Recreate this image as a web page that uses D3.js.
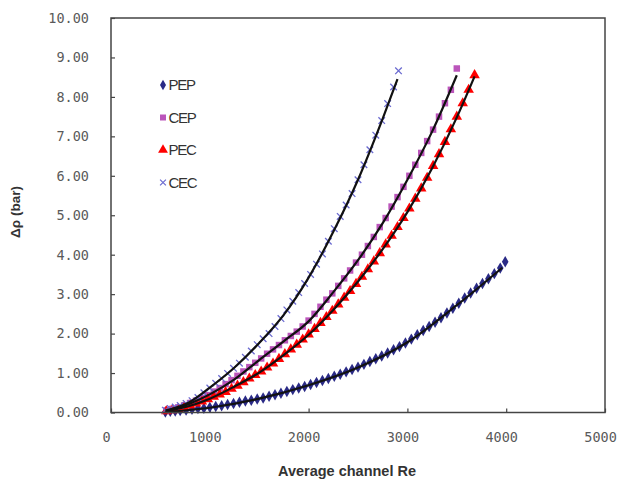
<!DOCTYPE html>
<html>
<head>
<meta charset="utf-8">
<script src="https://cdn.jsdelivr.net/npm/d3@7"></script>
<style>
  body { margin: 0; background: #fff; }
</style>
</head>
<body>
<div id="chart"></div>
<script>
// Re vs pressure drop
const pep = [[550,0.01],[600,0.03],[650,0.04],[700,0.05],[760,0.06],[820,0.08],[880,0.10],[940,0.11],[1000,0.13],[1060,0.15],[1120,0.17],[1180,0.20],[1240,0.23],[1300,0.26],[1360,0.29],[1420,0.31],[1480,0.34],[1540,0.37],[1600,0.41],[1660,0.45],[1720,0.49],[1780,0.53],[1840,0.58],[1900,0.62],[1960,0.66],[2020,0.71],[2080,0.76],[2140,0.81],[2200,0.86],[2260,0.92],[2320,0.97],[2380,1.03],[2440,1.09],[2500,1.15],[2560,1.22],[2620,1.29],[2680,1.36],[2740,1.43],[2800,1.51],[2860,1.59],[2920,1.67],[2980,1.76],[3040,1.86],[3100,1.97],[3160,2.08],[3220,2.18],[3280,2.29],[3340,2.40],[3400,2.52],[3460,2.64],[3520,2.77],[3580,2.90],[3640,3.03],[3700,3.15],[3760,3.27],[3820,3.39],[3880,3.52],[3940,3.66],[3990,3.82]];
const cep = [[560,0.05],[620,0.09],[680,0.13],[740,0.18],[800,0.24],[860,0.30],[920,0.37],[980,0.44],[1040,0.53],[1100,0.62],[1160,0.72],[1220,0.82],[1280,0.93],[1340,1.04],[1400,1.15],[1460,1.26],[1520,1.37],[1580,1.49],[1640,1.60],[1700,1.71],[1760,1.83],[1820,1.94],[1880,2.05],[1940,2.18],[2000,2.33],[2060,2.50],[2120,2.68],[2180,2.86],[2240,3.02],[2300,3.21],[2360,3.40],[2420,3.60],[2480,3.80],[2540,4.00],[2600,4.22],[2660,4.45],[2720,4.70],[2780,4.93],[2840,5.22],[2900,5.46],[2960,5.72],[3020,6.00],[3080,6.28],[3140,6.58],[3200,6.88],[3260,7.17],[3320,7.50],[3380,7.84],[3440,8.18],[3500,8.72]];
const pec = [[560,0.03],[620,0.06],[680,0.09],[740,0.13],[800,0.18],[860,0.23],[920,0.28],[980,0.34],[1040,0.40],[1100,0.46],[1160,0.52],[1220,0.60],[1280,0.68],[1340,0.77],[1400,0.86],[1460,0.95],[1520,1.04],[1580,1.14],[1640,1.24],[1700,1.36],[1760,1.48],[1820,1.60],[1880,1.72],[1940,1.85],[2000,1.98],[2060,2.12],[2120,2.27],[2180,2.42],[2240,2.58],[2300,2.74],[2360,2.91],[2420,3.08],[2480,3.26],[2540,3.44],[2600,3.63],[2660,3.83],[2720,4.04],[2780,4.26],[2840,4.48],[2900,4.70],[2960,4.93],[3020,5.17],[3080,5.42],[3140,5.68],[3200,5.95],[3260,6.25],[3320,6.55],[3380,6.86],[3440,7.18],[3500,7.50],[3560,7.84],[3620,8.18],[3680,8.55]];
const cec = [[550,0.06],[600,0.10],[650,0.14],[700,0.18],[760,0.23],[820,0.30],[880,0.38],[940,0.50],[1000,0.62],[1060,0.74],[1120,0.86],[1180,0.99],[1240,1.12],[1300,1.25],[1360,1.40],[1420,1.56],[1480,1.72],[1540,1.87],[1600,2.00],[1660,2.18],[1720,2.38],[1780,2.60],[1840,2.82],[1900,3.04],[1960,3.27],[2020,3.50],[2080,3.76],[2140,4.02],[2200,4.34],[2260,4.66],[2320,4.97],[2380,5.26],[2440,5.55],[2500,5.90],[2560,6.28],[2620,6.66],[2680,7.03],[2740,7.40],[2800,7.83],[2860,8.25],[2910,8.66]];

// black trend lines
const pepFit = [[550,0.01],[1000,0.12],[1500,0.35],[2000,0.69],[2500,1.14],[3000,1.78],[3500,2.72],[3960,3.67]];
const cepFit = [[560,0.04],[800,0.23],[1000,0.46],[1250,0.84],[1500,1.33],[1750,1.81],[2000,2.31],[2250,3.05],[2500,3.86],[2750,4.80],[3000,5.90],[3250,7.12],[3500,8.55]];
const pecFit = [[560,0.03],[800,0.17],[1000,0.35],[1250,0.66],[1500,1.01],[1750,1.46],[2000,1.97],[2250,2.60],[2500,3.32],[2750,4.14],[3000,5.08],[3250,6.19],[3500,7.48],[3680,8.52]];
const cecFit = [[550,0.05],[800,0.27],[1000,0.63],[1250,1.14],[1500,1.76],[1750,2.48],[2000,3.42],[2250,4.58],[2500,5.90],[2750,7.45],[2900,8.45]];

const seriesNames = ['PEP', 'CEP', 'PEC', 'CEC'];
const xTicks = [0, 1000, 2000, 3000, 4000, 5000];
const yTicks = [0, 1, 2, 3, 4, 5, 6, 7, 8, 9, 10];

const W = 619, H = 481;
const margin = { top: 18, right: 14, bottom: 68.5, left: 111 };
const width = W - margin.left - margin.right;
const height = H - margin.top - margin.bottom;

const svg = d3.select('#chart').append('svg')
  .attr('width', W).attr('height', H);
const g = svg.append('g')
  .attr('transform', `translate(${margin.left},${margin.top})`);

const x = d3.scaleLinear().domain([0, 5000]).range([0, width]);
const y = d3.scaleLinear().domain([0, 10]).range([height, 0]);

const styles = {
  PEP: { data: pep, fit: pepFit, symbol: d3.symbolDiamond, size: 38, color: '#2a2a86', stroke: false },
  CEP: { data: cep, fit: cepFit, symbol: d3.symbolSquare, size: 42, color: '#bb55bb', stroke: false },
  PEC: { data: pec, fit: pecFit, symbol: d3.symbolTriangle, size: 48, color: '#ff0000', stroke: false },
  CEC: { data: cec, fit: cecFit, symbol: d3.symbolX, size: 30, color: '#6a6ad0', stroke: true }
};

// axes with inward ticks
const yAxis = g.append('g')
  .call(d3.axisLeft(y).tickValues(yTicks).tickSizeInner(-4).tickSizeOuter(0)
    .tickPadding(22).tickFormat(d3.format('.2f')));
const xAxis = g.append('g')
  .attr('transform', `translate(0,${height})`)
  .call(d3.axisBottom(x).tickValues(xTicks).tickSizeInner(-4).tickSizeOuter(0)
    .tickPadding(20).tickFormat(d3.format('d')));
[yAxis, xAxis].forEach(a => {
  a.select('.domain').remove();
  a.selectAll('line').attr('stroke', '#444').attr('stroke-width', 1.2);
  a.selectAll('text')
    .style('font-family', '"DejaVu Sans Mono", monospace')
    .style('font-size', '13.5px')
    .style('fill', '#5a5a5a');
});
xAxis.selectAll('text').attr('dx', -5);

// markers
seriesNames.forEach(name => {
  const s = styles[name];
  const sym = d3.symbol().type(s.symbol).size(s.size);
  g.append('g').selectAll('path')
    .data(s.data)
    .enter().append('path')
    .attr('d', sym)
    .attr('transform', d => `translate(${x(d[0])},${y(d[1])})`)
    .attr('fill', s.stroke ? 'none' : s.color)
    .attr('stroke', s.stroke ? s.color : 'none')
    .attr('stroke-width', 1.3);
});

// fit lines on top
const line = d3.line().x(d => x(d[0])).y(d => y(d[1])).curve(d3.curveMonotoneX);
seriesNames.forEach(name => {
  g.append('path')
    .attr('d', line(styles[name].fit))
    .attr('fill', 'none')
    .attr('stroke', '#111')
    .attr('stroke-width', 2.2);
});

// frame
g.append('rect')
  .attr('width', width).attr('height', height)
  .attr('fill', 'none').attr('stroke', '#444').attr('stroke-width', 1.5);

// legend
const legend = svg.append('g').attr('transform', 'translate(163,85)');
seriesNames.forEach((name, i) => {
  const s = styles[name];
  const row = legend.append('g').attr('transform', `translate(0,${i * 32.5})`);
  row.append('path')
    .attr('d', d3.symbol().type(s.symbol).size(s.size - 6)())
    .attr('fill', s.stroke ? 'none' : s.color)
    .attr('stroke', s.stroke ? s.color : 'none')
    .attr('stroke-width', 1.2);
  row.append('text')
    .attr('x', 5.5).attr('dy', '0.36em')
    .style('font-family', '"Liberation Sans", Arial, sans-serif')
    .style('font-size', '15px')
    .style('letter-spacing', '-1.3px')
    .style('fill', '#333')
    .text(name);
});

// axis titles
svg.append('text')
  .attr('x', 347).attr('y', 476)
  .attr('text-anchor', 'middle')
  .style('font-family', '"Liberation Sans", Arial, sans-serif')
  .style('font-weight', 'bold')
  .style('font-size', '14.5px')
  .style('fill', '#333')
  .text('Average channel Re');

svg.append('text')
  .attr('transform', 'translate(20,212) rotate(-90)')
  .attr('text-anchor', 'middle')
  .style('font-family', '"Liberation Sans", Arial, sans-serif')
  .style('font-weight', 'bold')
  .style('font-size', '13.5px')
  .style('fill', '#333')
  .text('Δρ (bar)');
</script>
</body>
</html>
